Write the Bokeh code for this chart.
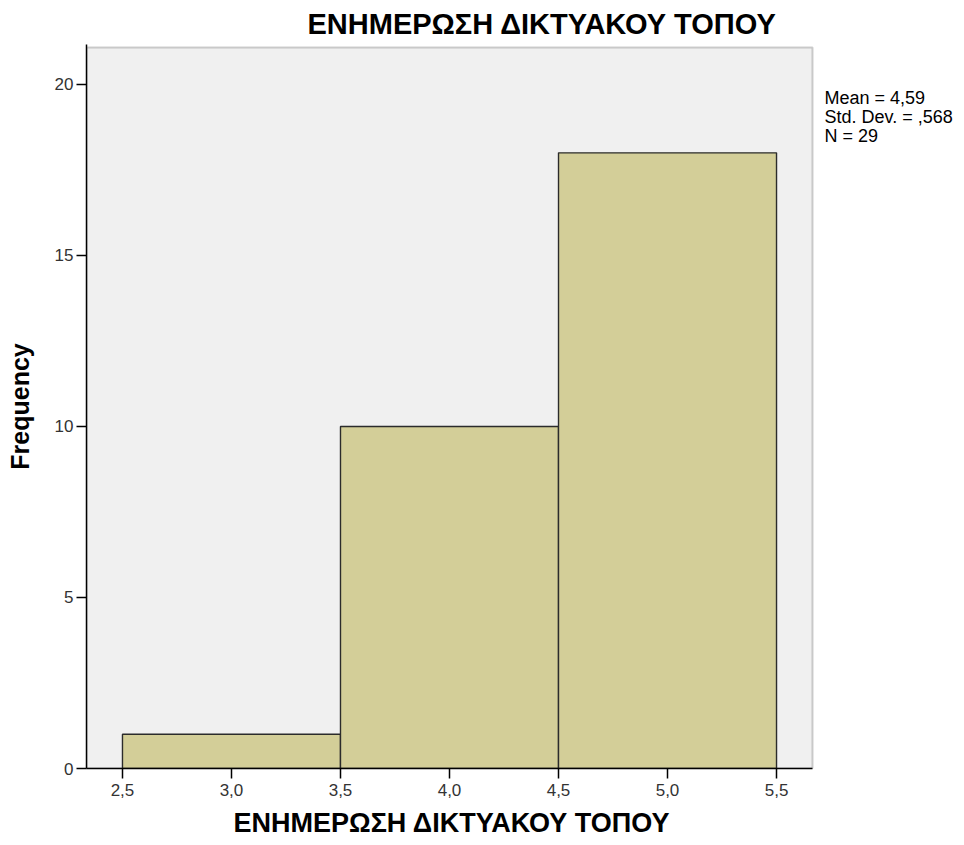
from bokeh.plotting import figure
from bokeh.models import FixedTicker, Label, Range1d, Title, BoxAnnotation
from bokeh.embed import file_html
from bokeh.resources import INLINE

bin_left = [2.5, 3.5, 4.5]
bin_right = [3.5, 4.5, 5.5]
counts = [1, 10, 18]
x_ticks = [2.5, 3.0, 3.5, 4.0, 4.5, 5.0, 5.5]
x_tick_labels = ["2,5", "3,0", "3,5", "4,0", "4,5", "5,0", "5,5"]
y_ticks = [0, 5, 10, 15, 20]
stats_lines = ["Mean = 4,59", "Std. Dev. = ,568", "N = 29"]
title_text = "ΕΝΗΜΕΡΩΣΗ ΔΙΚΤΥΑΚΟΥ ΤΟΠΟΥ"
x_label = "ΕΝΗΜΕΡΩΣΗ ΔΙΚΤΥΑΚΟΥ ΤΟΠΟΥ"
y_label = "Frequency"

FONT = "Liberation Sans"

# layout (pixels)
W, H = 964, 845
LEFT, TOP, BOTTOM_B, RIGHT_B = 86, 44, 77, 0
AREA_W = 726                 # width of the grey plotting area
AREA_TOP_GAP = 3             # grey area starts a few px below frame top
X0, X1 = 2.335, 5.665        # data extent of grey area
Y0, Y1 = 0, 21.08
frame_w = W - LEFT - RIGHT_B
frame_h = H - TOP - BOTTOM_B
upp_x = (X1 - X0) / AREA_W
upp_y = (Y1 - Y0) / (frame_h - AREA_TOP_GAP)
x_end = X0 + frame_w * upp_x
y_end = Y1 + AREA_TOP_GAP * upp_y

p = figure(width=W, height=H, output_backend="svg", toolbar_location=None,
           x_range=Range1d(X0, x_end), y_range=Range1d(Y0, y_end),
           min_border_left=LEFT, min_border_right=RIGHT_B,
           min_border_top=TOP, min_border_bottom=BOTTOM_B)
p.title = None
p.background_fill_color = "white"
p.border_fill_color = "white"
p.outline_line_color = None
p.xgrid.visible = False
p.ygrid.visible = False

p.add_layout(BoxAnnotation(left=X0, right=X1, bottom=Y0, top=Y1,
                           fill_color="#F0F0F0", fill_alpha=1.0,
                           line_color="#606060", line_width=2,
                           level="underlay"))

p.quad(left=bin_left, right=bin_right, bottom=0, top=counts,
       fill_color="#D3CE98", line_color="#2b2b2b", line_width=1.4)

for ax in (p.xaxis, p.yaxis):
    ax.axis_line_color = "black"
    ax.axis_line_width = 1.5
    ax.major_tick_line_color = "black"
    ax.major_tick_line_width = 1.5
    ax.major_tick_out = 10
    ax.major_tick_in = 0
    ax.minor_tick_line_color = None
    ax.major_label_text_font = FONT
    ax.major_label_text_font_size = "17px"
    ax.major_label_text_color = "#333333"
    ax.axis_label_text_font = FONT
    ax.axis_label_text_font_style = "bold"
    ax.axis_label_text_color = "black"

p.xaxis.ticker = FixedTicker(ticks=x_ticks)
p.xaxis.major_label_overrides = {t: l for t, l in zip(x_ticks, x_tick_labels)}
p.xaxis.bounds = (X0, X1)
p.xaxis.major_label_standoff = 5

p.yaxis.ticker = FixedTicker(ticks=y_ticks)
p.yaxis.axis_label = y_label
p.yaxis.axis_label_text_font_size = "25px"
p.yaxis.axis_label_standoff = 18
p.yaxis.major_label_standoff = 3

p.add_layout(Title(text=title_text, text_font=FONT, text_font_size="29px",
                   text_font_style="bold", align="left", offset=221,
                   standoff=9, text_color="black"), "above")
p.add_layout(Title(text=x_label, text_font=FONT, text_font_size="27px",
                   text_font_style="bold", align="left", offset=147,
                   standoff=14, text_color="black"), "below")

for i, line in enumerate(stats_lines):
    p.add_layout(Label(x=X1 + 12 * upp_x, y=Y1 - (87 - 47 + i * 19) * upp_y,
                       text=line, text_font=FONT,
                       text_font_size="18px", text_baseline="top",
                       text_color="black"))

open("out.html", "w").write(file_html(p, INLINE))
